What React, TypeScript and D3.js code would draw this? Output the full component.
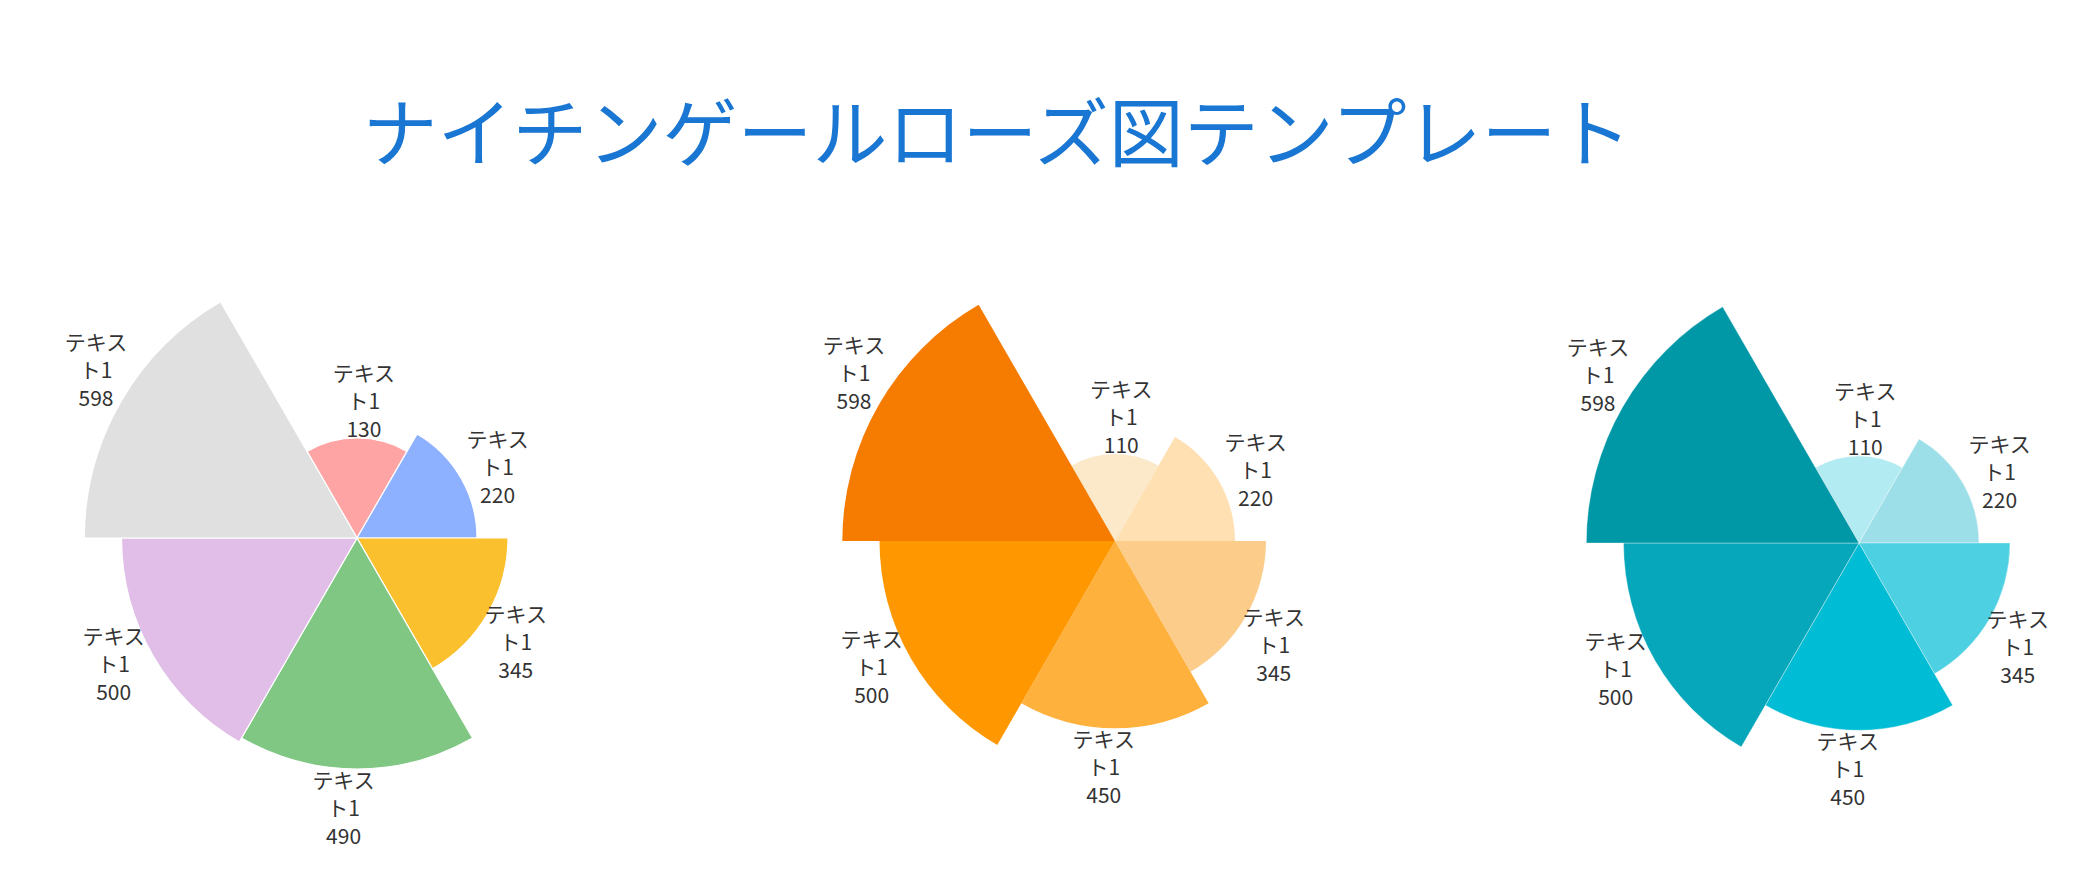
import React, { useEffect } from 'react'
import * as d3 from 'd3'

// ---- data ----
const lineA = 'テキス'
const lineB = 'ト1'

const values1 = [130, 220, 345, 490, 500, 598]
const values2 = [110, 220, 345, 450, 500, 598]
const values3 = [110, 220, 345, 450, 500, 598]

const colors1 = ['#FFA4A4', '#8EB1FF', '#FBC02D', '#81C784', '#E1BEE7', '#E0E0E0']
const colors2 = ['#FCE9CA', '#FFE0B2', '#FCCD8A', '#FFB13D', '#FF9800', '#F57C00']
const colors3 = ['#B2EBF2', '#9DDFE8', '#4DD0E1', '#00BCD4', '#07A7BB', '#0097A7']

// the template's petals are not proportional to their labels, so the radius
// scale follows the values as they are drawn
const valueStops = [0, 110, 130, 220, 345, 450, 490, 500, 598]
const radiusStops = [0, 87, 100, 120, 151, 187.3, 231, 235.5, 272.7]

const title = 'ナイチンゲールローズ図テンプレート'

const W = 2099
const H = 875
const FONT = '"Noto Sans CJK JP", "Noto Sans", sans-serif'

const rScale = d3.scaleLinear().domain(valueStops).range(radiusStops)

type RoseProps = {
  cx: number
  cy: number
  values: number[]
  colors: string[]
  stroke: string
  strokeWidth: number
}

const Rose = ({ cx, cy, values, colors, stroke, strokeWidth }: RoseProps) => {
  const step = (Math.PI * 2) / values.length
  const start = -Math.PI / 6
  const arc = d3.arc<any>()
  const slices = values.map((v, i) => ({
    value: v,
    innerRadius: 0,
    outerRadius: rScale(v),
    startAngle: start + i * step,
    endAngle: start + (i + 1) * step,
    color: colors[i]
  }))

  return (
    <g transform={`translate(${cx},${cy})`}>
      {slices.map((s, i) => (
        <path
          key={i}
          d={arc(s) as string}
          fill={s.color}
          stroke={stroke}
          strokeWidth={strokeWidth}
        />
      ))}
      {slices.map((s, i) => {
        // labels sit a bit outside each petal, nudged clockwise a touch
        const mid = (s.startAngle + s.endAngle) / 2 + 0.05
        const r = s.outerRadius + 38
        const x = r * Math.sin(mid)
        const y = -r * Math.cos(mid)
        return (
          <g key={'l' + i} fontFamily={FONT} fontSize={21} fill="#333" textAnchor="middle">
            {[lineA, lineB, String(s.value)].map((t, j) => (
              <text key={j} x={x} y={y + (j - 1) * 28} dominantBaseline="central">
                {t}
              </text>
            ))}
          </g>
        )
      })}
    </g>
  )
}

export default function App() {
  useEffect(() => {
    document.body.style.margin = '0'
  }, [])

  return (
    <svg width={W} height={H} style={{ display: 'block', background: '#fff' }}>
      <text
        x={997}
        y={128}
        textAnchor="middle"
        dominantBaseline="central"
        fontFamily={FONT}
        fontSize={75}
        fill="#1976D2"
      >
        {title}
      </text>
      <Rose cx={357} cy={538} values={values1} colors={colors1} stroke="#fff" strokeWidth={1.2} />
      <Rose cx={1115} cy={541} values={values2} colors={colors2} stroke="none" strokeWidth={0} />
      <Rose cx={1859} cy={543} values={values3} colors={colors3} stroke="rgba(255,255,255,0.35)" strokeWidth={1} />
    </svg>
  )
}
